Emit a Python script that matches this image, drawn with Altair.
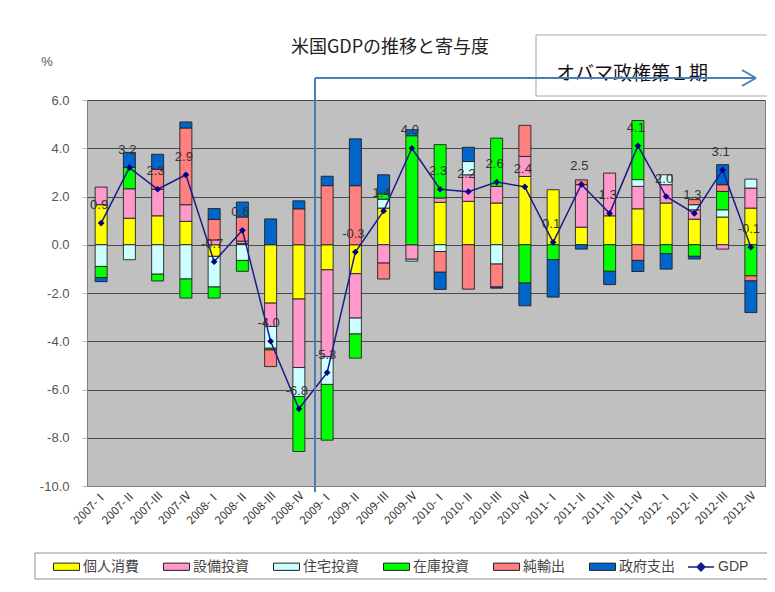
import altair as alt
import pandas as pd

quarters = ["2007-Ⅰ", "2007-Ⅱ", "2007-Ⅲ", "2007-Ⅳ",
            "2008-Ⅰ", "2008-Ⅱ", "2008-Ⅲ", "2008-Ⅳ",
            "2009-Ⅰ", "2009-Ⅱ", "2009-Ⅲ", "2009-Ⅳ",
            "2010-Ⅰ", "2010-Ⅱ", "2010-Ⅲ", "2010-Ⅳ",
            "2011-Ⅰ", "2011-Ⅱ", "2011-Ⅲ", "2011-Ⅳ",
            "2012-Ⅰ", "2012-Ⅱ", "2012-Ⅲ", "2012-Ⅳ"]

components = ["個人消費", "設備投資", "住宅投資", "在庫投資", "純輸出", "政府支出"]
colors = ["#FFFF00", "#FF99CC", "#CCFFFF", "#00FF00", "#FF8080", "#0066CC"]

consumption = [1.66, 1.10, 1.20, 0.97, -0.48, 0.05, -2.42, -2.25, -1.04, -1.20, 1.52, 0.0,
               1.76, 1.80, 1.73, 2.83, 2.28, 0.73, 1.20, 1.49, 1.73, 1.06, 1.15, 1.52]
equipment = [0.73, 1.22, 1.10, 0.69, 0.20, 0.10, -0.97, -2.84, -3.60, -1.84, -0.76, -0.60,
             0.18, 1.10, 0.69, 0.83, 0.0, 1.76, 1.77, 0.93, 0.76, 0.39, -0.18, 0.83]
housing = [-0.90, -0.62, -1.22, -1.42, -1.27, -0.65, -0.90, -1.20, -1.15, -0.66, 0.37, -0.08,
           -0.28, 0.55, -0.80, 0.0, 0.0, 0.0, 0.0, 0.28, 0.41, 0.21, 0.30, 0.37]
inventory = [-0.46, 0.89, -0.28, -0.79, -0.46, -0.45, -0.07, -2.28, -2.31, -1.00, 0.22, 4.52,
             2.21, 0.0, 2.00, -1.59, -0.62, 0.0, -1.10, 2.45, -0.37, -0.48, 0.76, -1.29]
net_exports = [0.0, 0.0, 0.83, 3.18, 0.85, 1.00, -0.69, 1.49, 2.45, 2.45, -0.66, 0.0,
               -0.86, -1.84, -0.95, 1.29, 0.0, 0.20, 0.0, -0.65, 0.0, 0.21, 0.28, -0.21]
government = [-0.17, 0.62, 0.62, 0.25, 0.45, 0.62, 1.07, 0.33, 0.39, 1.94, 0.79, 0.25,
              -0.71, 0.59, -0.05, -0.94, -1.55, -0.18, -0.55, -0.46, -0.64, -0.11, 0.83, -1.31]
gdp = [0.9, 3.2, 2.3, 2.9, -0.7, 0.6, -4.0, -6.8, -5.3, -0.3, 1.4, 4.0,
       2.3, 2.2, 2.6, 2.4, 0.1, 2.5, 1.3, 4.1, 2.0, 1.3, 3.1, -0.1]

series = [consumption, equipment, housing, inventory, net_exports, government]
rows = []
for ci, (name, vals) in enumerate(zip(components, series)):
    for q, v in zip(quarters, vals):
        if v != 0:
            rows.append({"quarter": q, "component": name, "ord": ci, "value": v})
bars_df = pd.DataFrame(rows)
gdp_df = pd.DataFrame({"quarter": quarters, "gdp": gdp,
                       "label": [f"{v:.1f}" for v in gdp], "series": ["GDP"] * len(gdp)})
one = pd.DataFrame({"a": [0]})

JP = "Noto Sans CJK JP"
SANS = "Liberation Sans"

x_enc = alt.X("quarter:N", sort=quarters, title=None,
              scale=alt.Scale(paddingInner=0, paddingOuter=0),
              axis=alt.Axis(labelAngle=-45, labelFont=JP, labelFontSize=11.5,
                            labelColor="#333", ticks=False, labelPadding=3,
                            domainColor="#808080", grid=False))
y_scale = alt.Scale(domain=[-10, 6], nice=False, zero=False)
y_axis = alt.Axis(values=list(range(-10, 7, 2)),
                  labelExpr="datum.value < 0 ? '-' + format(-datum.value, '.1f') : format(datum.value, '.1f')",
                  grid=True, gridColor="#4a4a4a", gridWidth=1, tickSize=5, tickColor="#bbbbbb",
                  domainColor="#808080", labelFont=SANS, labelFontSize=13, labelColor="#555555",
                  labelPadding=13, title=None)

bars = alt.Chart(bars_df).mark_bar(size=12, stroke="#202020", strokeWidth=0.9).encode(
    x=x_enc,
    y=alt.Y("value:Q", stack="zero", scale=y_scale, axis=y_axis),
    color=alt.Color("component:N", scale=alt.Scale(domain=components, range=colors),
                    legend=alt.Legend(orient="none", legendX=-34, legendY=453, direction="horizontal",
                                      title=None, symbolType="M-1,-0.28H1V0.28H-1Z", symbolSize=676,
                                      symbolStrokeColor="#222222", symbolStrokeWidth=1,
                                      labelFont=JP, labelFontSize=14, labelColor="#444444",
                                      labelOffset=3, columnPadding=22, padding=0)),
    order=alt.Order("ord:Q"),
)

line = alt.Chart(gdp_df).mark_line(strokeWidth=1.5).encode(
    x=x_enc,
    y=alt.Y("gdp:Q", scale=y_scale),
    stroke=alt.Stroke("series:N", scale=alt.Scale(domain=["GDP"], range=["#1a1a8c"]),
                      legend=alt.Legend(orient="none", legendX=600, legendY=453, title=None,
                                        symbolType="M-1,0H1M0,-0.3L0.3,0L0,0.3L-0.3,0Z",
                                        symbolSize=676, symbolStrokeWidth=1.5,
                                        symbolFillColor="#1a1a8c",
                                        labelFont=SANS, labelFontSize=14, labelColor="#444444",
                                        labelOffset=3, padding=0)),
)

points = alt.Chart(gdp_df).mark_point(shape="diamond", filled=True, size=45, color="#000080", opacity=1).encode(
    x=x_enc, y=alt.Y("gdp:Q", scale=y_scale))

labels = alt.Chart(gdp_df).mark_text(dy=-18, dx=-2, font=SANS, fontSize=13, color="#333333",
                                     baseline="middle").encode(
    x=x_enc, y=alt.Y("gdp:Q", scale=y_scale), text="label:N")

title = alt.Chart(one).mark_text(font=JP, fontSize=18, color="#222222", align="center",
                                 baseline="alphabetic").encode(
    x=alt.value(303), y=alt.value(-47), text=alt.value("米国GDPの推移と寄与度"))
pct = alt.Chart(one).mark_text(font=SANS, fontSize=13, color="#555555", align="center",
                               baseline="middle").encode(
    x=alt.value(-40), y=alt.value(-38), text=alt.value("%"))

box = alt.Chart(one).mark_rect(fill="white", stroke="#A8A8A8", strokeWidth=1).encode(
    x=alt.value(449), x2=alt.value(690), y=alt.value(-65), y2=alt.value(-4))
ann_text = alt.Chart(one).mark_text(font=JP, fontSize=19, color="#111111", align="left",
                                    baseline="alphabetic").encode(
    x=alt.value(469), y=alt.value(-20), text=alt.value("オバマ政権第１期"))
ARROW = "#4A7EBB"
vline = alt.Chart(one).mark_rule(color=ARROW, strokeWidth=2).encode(
    x=alt.value(228), y=alt.value(-22), y2=alt.value(392))
hline = alt.Chart(one).mark_rule(color=ARROW, strokeWidth=2).encode(
    x=alt.value(228), x2=alt.value(669), y=alt.value(-22))
head1 = alt.Chart(one).mark_rule(color=ARROW, strokeWidth=2).encode(
    x=alt.value(655), x2=alt.value(669), y=alt.value(-30), y2=alt.value(-22))
head2 = alt.Chart(one).mark_rule(color=ARROW, strokeWidth=2).encode(
    x=alt.value(655), x2=alt.value(669), y=alt.value(-14), y2=alt.value(-22))

legend_box = alt.Chart(one).mark_rect(fill="white", stroke="#909090", strokeWidth=1).encode(
    x=alt.value(-52), x2=alt.value(685), y=alt.value(453), y2=alt.value(479))

chart = alt.layer(
    legend_box, bars, line, points, labels, title, pct, box, ann_text, vline, hline, head1, head2
).properties(
    width=678, height=386,
    autosize=alt.AutoSizeParams(type="none"),
    padding={"left": 79, "top": 92, "right": 2, "bottom": 94},
    background="white",
).configure_view(fill="#C0C0C0", stroke="#808080", strokeWidth=1)

chart.save("out.html", embed_options={"renderer": "svg", "actions": False})
